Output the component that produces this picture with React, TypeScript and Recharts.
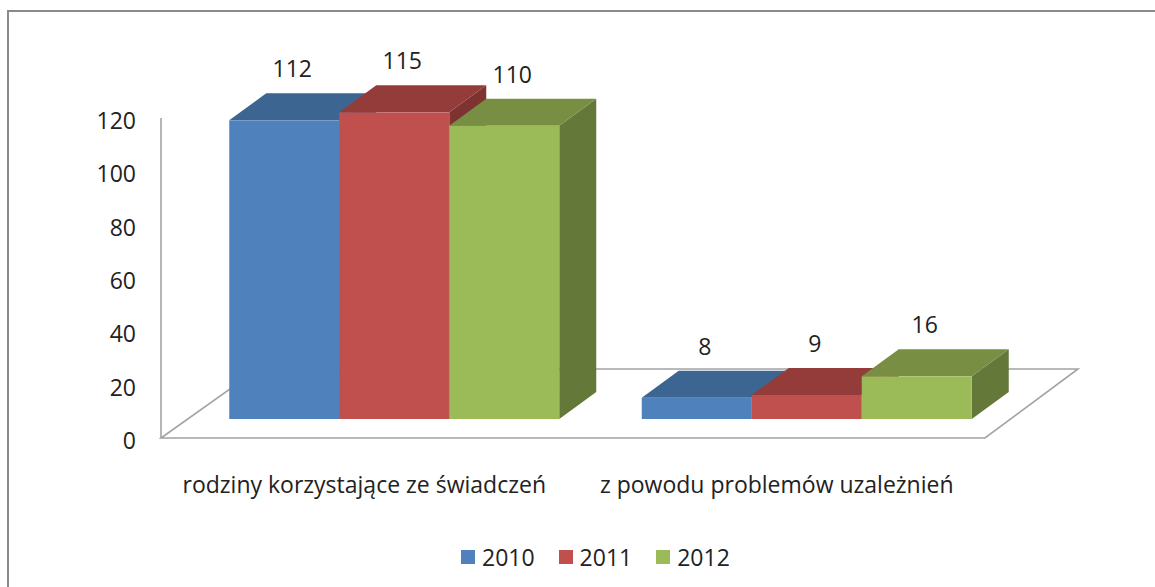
import React from 'react';
import { BarChart, Bar, XAxis, YAxis, LabelList } from 'recharts';

const categories = ['rodziny korzystające ze świadczeń', 'z powodu problemów uzależnień'];
const years = ['2010', '2011', '2012'];
const v2010 = [112, 8];
const v2011 = [115, 9];
const v2012 = [110, 16];
const yTicks = [0, 20, 40, 60, 80, 100, 120];

const W = 1155, H = 587;
const FONT = '"Open Sans", Lato, sans-serif';
const FS = 23;
const DX = 37, DY = -27; // depth of the 3d boxes
const FRONT_DY = 21; // front plane (axis) offset down from bar plane

const palette = [
  { front: '#4F81BD', top: '#3D6591', side: '#35597F' },
  { front: '#C0504D', top: '#943C3A', side: '#7F3331' },
  { front: '#9BBB59', top: '#788F43', side: '#64783A' },
];

const data = categories.map((c, i) => ({ name: c, y2010: v2010[i], y2011: v2011[i], y2012: v2012[i] }));
const keys = ['y2010', 'y2011', 'y2012'];

const makeBox = (c: { front: string; top: string; side: string }) => (p: any) => {
  const { x, y, width, height } = p;
  if (!width) return <g />;
  const b = y + height;
  return (
    <g>
      <polygon points={`${x + width},${y} ${x + width + DX},${y + DY} ${x + width + DX},${b + DY} ${x + width},${b}`} fill={c.side} />
      <polygon points={`${x},${y} ${x + DX},${y + DY} ${x + width + DX},${y + DY} ${x + width},${y}`} fill={c.top} />
      <rect x={x} y={y} width={width} height={height} fill={c.front} />
    </g>
  );
};

const valLabel = (p: any) => (
  <text x={p.x + p.width / 2 + 8} y={p.y - 52} textAnchor="middle" dominantBaseline="central"
    fontFamily={FONT} fontSize={FS} fill="#222">{p.value}</text>
);

const YTick = (p: any) => (
  <text x={136} y={p.y + FRONT_DY} textAnchor="end" dominantBaseline="central"
    fontFamily={FONT} fontSize={FS} fill="#222">{p.payload.value}</text>
);

const XTick = (p: any) => (
  <text x={p.x - 30} y={484} textAnchor="middle" dominantBaseline="central"
    fontFamily={FONT} fontSize={FS} fill="#222">{p.payload.value}</text>
);

export default function App() {
  return (
    <div style={{ position: 'absolute', left: 0, top: 0, width: W, height: H, background: '#fff', fontFamily: FONT }}>
      <div style={{ position: 'absolute', left: 7, top: 10, width: 1148, height: 577, boxSizing: 'border-box', borderTop: '2px solid #8a8a8a', borderLeft: '2px solid #8a8a8a' }} />
      <svg width={W} height={H} style={{ position: 'absolute', left: 0, top: 0 }}>
        <polygon points="161,438 985,438 1078,369 258,369" fill="none" stroke="#a3a3a3" strokeWidth={1.6} />
        <line x1={161} y1={118} x2={161} y2={438} stroke="#a3a3a3" strokeWidth={1.6} />
      </svg>
      <div style={{ position: 'absolute', left: 0, top: 0 }}>
        <BarChart width={W} height={H} data={data} margin={{ top: 99, right: 142, bottom: 108, left: 0 }}
          barGap={0} barCategoryGap="10%">
          <XAxis dataKey="name" height={60} axisLine={false} tickLine={false} interval={0} tick={<XTick />} />
          <YAxis domain={[0, 120]} ticks={yTicks} width={188} axisLine={false} tickLine={false} tick={<YTick />} />
          {keys.map((k, i) => (
            <Bar key={k} dataKey={k} name={years[i]} fill={palette[i].front} isAnimationActive={false}
              shape={makeBox(palette[i])}>
              <LabelList dataKey={k} content={valLabel} />
            </Bar>
          ))}
        </BarChart>
      </div>
      <div style={{ position: 'absolute', left: 461, top: 543, height: 28, display: 'flex', alignItems: 'center' }}>
        {years.map((y, i) => (
          <div key={y} style={{ display: 'flex', alignItems: 'center', marginRight: 24 }}>
            <div style={{ width: 14, height: 14, background: palette[i].front, marginRight: 7 }} />
            <span style={{ fontSize: FS, color: '#222', lineHeight: '28px' }}>{y}</span>
          </div>
        ))}
      </div>
    </div>
  );
}
